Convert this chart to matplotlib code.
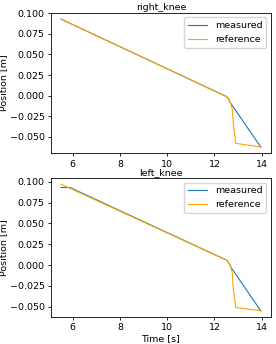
import numpy as np
import matplotlib
matplotlib.use("Agg")
import matplotlib.pyplot as plt

# right knee
rk_meas_t = [5.5, 12.5, 12.6, 12.68, 13.96]
rk_meas_y = [0.093, -0.001, -0.004, -0.009, -0.0625]
rk_ref_t = [5.5, 12.5, 12.6, 12.68, 12.75, 12.8, 12.9, 13.96]
rk_ref_y = [0.093, -0.001, -0.004, -0.009, -0.016, -0.035, -0.058, -0.0625]

# left knee
lk_meas_t = [5.5, 5.88, 12.5, 12.6, 12.68, 13.96]
lk_meas_y = [0.093, 0.093, 0.006, 0.003, -0.002, -0.055]
lk_ref_t = [5.5, 12.5, 12.6, 12.68, 12.75, 12.8, 12.9, 13.96]
lk_ref_y = [0.097, 0.006, 0.003, -0.002, -0.009, -0.030, -0.051, -0.055]

plt.rcParams["font.size"] = 6.8

fig = plt.figure(figsize=(2.76, 3.44), dpi=100)
ax1 = fig.add_axes([0.185, 0.554, 0.796, 0.409])
ax2 = fig.add_axes([0.185, 0.078, 0.796, 0.405])

for ax, mt, my, rt, ry, name in [
    (ax1, rk_meas_t, rk_meas_y, rk_ref_t, rk_ref_y, "right_knee"),
    (ax2, lk_meas_t, lk_meas_y, lk_ref_t, lk_ref_y, "left_knee"),
]:
    ax.plot(mt, my, color="#1f77b4", lw=0.8, label="measured")
    ax.plot(rt, ry, color="orange", lw=0.8, label="reference")
    ax.set_title(name, fontsize=6.8, pad=2)
    ax.set_ylabel("Position [m]", labelpad=1)
    ax.legend(loc="upper right", fontsize=6.8)
    ax.set_xticks([6, 8, 10, 12, 14])
    ax.tick_params(length=2.5, width=0.6, pad=2)
    for s in ax.spines.values():
        s.set_linewidth(0.6)

ax2.set_xlabel("Time [s]", labelpad=1)

fig.savefig("out.png", dpi=100)
